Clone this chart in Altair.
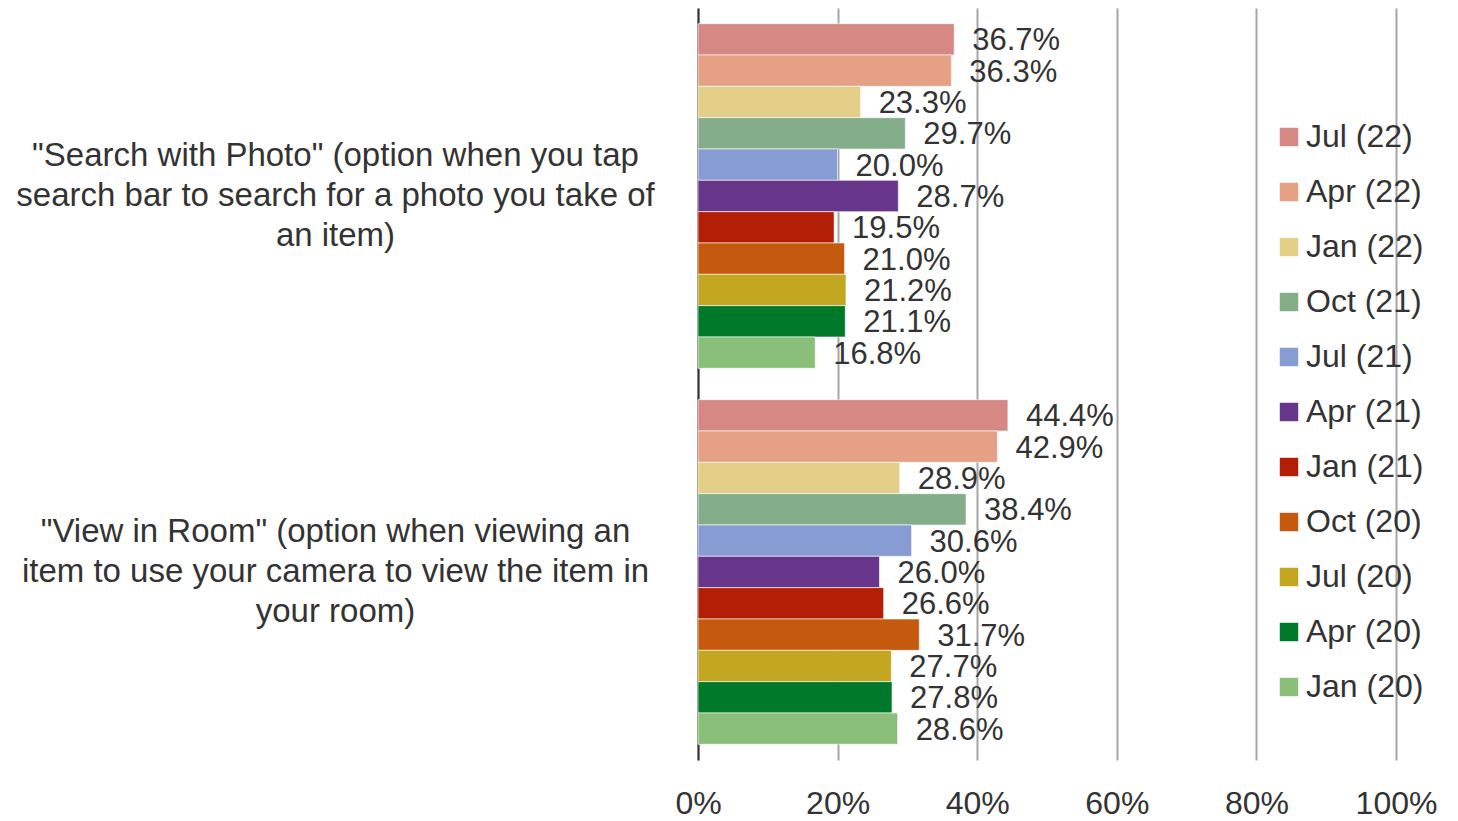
import altair as alt
import pandas as pd

periods = ["Jul (22)", "Apr (22)", "Jan (22)", "Oct (21)", "Jul (21)", "Apr (21)",
           "Jan (21)", "Oct (20)", "Jul (20)", "Apr (20)", "Jan (20)"]
colors = ["#D68884", "#E6A085", "#E4CF88", "#84AE8A", "#869CD2", "#67368A",
          "#B21E06", "#C55A0E", "#C4A720", "#00782A", "#8ABF7A"]
categories = [
    '"Search with Photo" (option when you tap|search bar to search for a photo you take of|an item)',
    '"View in Room" (option when viewing an|item to use your camera to view the item in|your room)',
]
search_photo = [36.7, 36.3, 23.3, 29.7, 20.0, 28.7, 19.5, 21.0, 21.2, 21.1, 16.8]
view_room = [44.4, 42.9, 28.9, 38.4, 30.6, 26.0, 26.6, 31.7, 27.7, 27.8, 28.6]

rows = []
for cat, vals in zip(categories, [search_photo, view_room]):
    for p, v in zip(periods, vals):
        rows.append({"cat": cat, "period": p, "value": v / 100.0})
df = pd.DataFrame(rows)

FONT = "Liberation Sans"
TXT = "#333333"

y = alt.Y("cat:N", sort=categories, title=None,
          scale=alt.Scale(paddingInner=0, paddingOuter=0),
          axis=alt.Axis(labelExpr="split(datum.label, '|')", labelAlign="center",
                        labelPadding=363, labelFontSize=33, labelColor=TXT,
                        labelFont=FONT, labelLineHeight=40, labelLimit=900,
                        labelOffset=-40, ticks=False, domainColor="#333333",
                        domainWidth=2, labelBaseline="middle"))
yoff = alt.YOffset("period:N", sort=periods,
                   scale=alt.Scale(paddingInner=0, paddingOuter=0.5))
x = alt.X("value:Q", title=None,
          scale=alt.Scale(domain=[0, 1], nice=False),
          axis=alt.Axis(format=".0%", values=[0, 0.2, 0.4, 0.6, 0.8, 1.0],
                        grid=True, gridColor="#A6A6A6", gridWidth=2,
                        domain=False, ticks=False, labelFontSize=32,
                        labelFlush=False, labelAlign="center",
                        labelColor=TXT, labelFont=FONT, labelPadding=28))

bars = alt.Chart(df).mark_bar(stroke="white", strokeWidth=0.6).encode(
    x=x, y=y, yOffset=yoff,
    color=alt.Color("period:N", sort=periods,
                    scale=alt.Scale(domain=periods, range=colors),
                    legend=alt.Legend(title=None, orient="none", legendX=575, legendY=113,
                                      symbolType="square", symbolSize=340,
                                      symbolStrokeWidth=0, labelFontSize=32,
                                      labelFont=FONT, labelColor=TXT,
                                      rowPadding=23, labelOffset=1)),
)
texts = alt.Chart(df).mark_text(align="left", baseline="middle", dx=18, dy=2,
                                fontSize=31, font=FONT, color=TXT).encode(
    x="value:Q", y=alt.Y("cat:N", sort=categories), yOffset=yoff,
    text=alt.Text("value:Q", format=".1%"),
)

chart = (bars + texts).properties(
    width=698, height=752,
    padding={"left": 7, "top": 0, "right": 5, "bottom": 5},
).configure_view(stroke=None)
chart.save("out.html", embed_options={"renderer": "svg", "actions": False})
